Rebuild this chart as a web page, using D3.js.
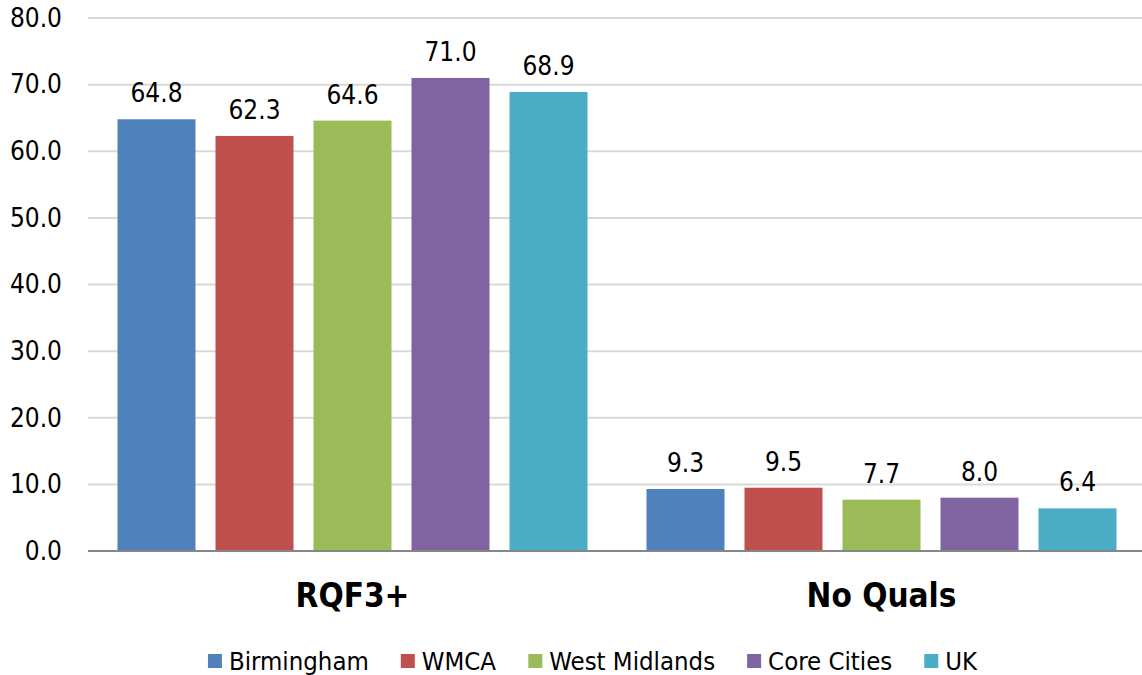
<!DOCTYPE html>
<html>
<head>
<meta charset="utf-8">
<script src="https://cdn.jsdelivr.net/npm/d3@7"></script>
<style>
  body { margin: 0; background: #fff; }
  text { font-family: "DejaVu Sans Condensed", "DejaVu Sans", sans-serif; fill: #000; }
</style>
</head>
<body>
<script>
// chart data
const categories = ["RQF3+", "No Quals"];
const seriesNames = ["Birmingham", "WMCA", "West Midlands", "Core Cities", "UK"];
const seriesColors = ["#4F81BD", "#C0504D", "#9BBB59", "#8064A2", "#4BACC6"];
const rqf3Values = [64.8, 62.3, 64.6, 71.0, 68.9];
const noQualsValues = [9.3, 9.5, 7.7, 8.0, 6.4];
const yTicks = [0, 10, 20, 30, 40, 50, 60, 70, 80];

const valuesByCategory = [rqf3Values, noQualsValues];

const W = 1142, H = 675;
const plotLeft = 88, plotRight = 1146, plotTop = 18, plotBottom = 551;

const svg = d3.select("body").append("svg")
    .attr("width", W)
    .attr("height", H);

const y = d3.scaleLinear().domain([0, 80]).range([plotBottom, plotTop]);

const x0 = d3.scaleBand().domain(categories).range([plotLeft, plotRight]);
const x1 = d3.scaleBand().domain(seriesNames)
    .range([0, x0.bandwidth()])
    .paddingInner(0.204)
    .paddingOuter(0.301);

// axis title, mostly cut off at the top
svg.append("text")
    .attr("x", 122).attr("y", -4)
    .style("font-size", "26px").style("font-weight", "bold")
    .text("(%)");

// gridlines
svg.append("g").selectAll("line")
    .data(yTicks.filter(d => d > 0))
    .enter().append("line")
    .attr("x1", plotLeft).attr("x2", plotRight)
    .attr("y1", d => y(d)).attr("y2", d => y(d))
    .attr("stroke", "#d9d9d9").attr("stroke-width", 2);

// y axis labels
const yAxis = d3.axisLeft(y).tickValues(yTicks).tickSize(0).tickPadding(26)
    .tickFormat(d3.format(".1f"));
const yg = svg.append("g").attr("transform", `translate(${plotLeft},0)`).call(yAxis);
yg.select(".domain").remove();
yg.selectAll("text")
    .style("font-size", "26px")
    .style("font-family", "\"DejaVu Sans Condensed\", \"DejaVu Sans\", sans-serif")
    .attr("fill", "#000");

// bars
const groups = svg.append("g").selectAll("g")
    .data(categories)
    .enter().append("g")
    .attr("transform", d => `translate(${x0(d)},0)`);

groups.selectAll("rect")
    .data((d, i) => valuesByCategory[i].map((v, j) => ({name: seriesNames[j], value: v, color: seriesColors[j]})))
    .enter().append("rect")
    .attr("x", d => x1(d.name))
    .attr("y", d => y(d.value))
    .attr("width", x1.bandwidth())
    .attr("height", d => y(0) - y(d.value))
    .attr("fill", d => d.color);

groups.selectAll("text.val")
    .data((d, i) => valuesByCategory[i].map((v, j) => ({name: seriesNames[j], value: v})))
    .enter().append("text")
    .attr("class", "val")
    .attr("x", d => x1(d.name) + x1.bandwidth() / 2)
    .attr("y", d => y(d.value) - 17)
    .attr("text-anchor", "middle")
    .style("font-size", "26px")
    .text(d => d.value.toFixed(1));

// baseline
svg.append("line")
    .attr("x1", plotLeft).attr("x2", plotRight)
    .attr("y1", y(0)).attr("y2", y(0))
    .attr("stroke", "#868686").attr("stroke-width", 2);

// category labels
svg.append("g").selectAll("text")
    .data(categories)
    .enter().append("text")
    .attr("x", d => x0(d) + x0.bandwidth() / 2)
    .attr("y", 607)
    .attr("text-anchor", "middle")
    .style("font-size", "33px").style("font-weight", "bold")
    .text(d => d);

// legend
const legend = svg.append("g");
const items = legend.selectAll("g")
    .data(seriesNames)
    .enter().append("g");
items.append("rect")
    .attr("width", 14).attr("height", 14)
    .attr("y", -16)
    .attr("fill", (d, i) => seriesColors[i]);
items.append("text")
    .attr("x", 21)
    .style("font-size", "25.5px")
    .text(d => d);

let lx = 0;
items.each(function () {
    const w = this.getBBox().width;
    d3.select(this).attr("transform", `translate(${lx},0)`);
    lx += w + 32;
});
const totalW = lx - 32;
legend.attr("transform", `translate(${593 - totalW / 2},670)`);
</script>
</body>
</html>
